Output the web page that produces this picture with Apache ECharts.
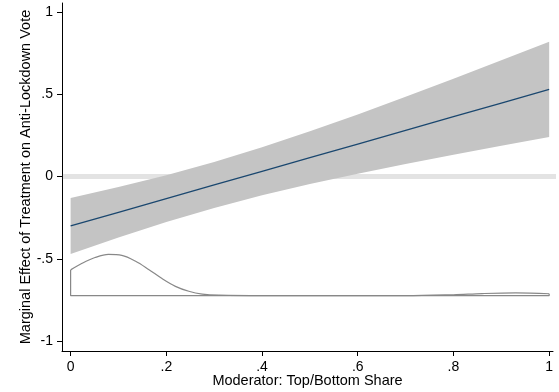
<!DOCTYPE html>
<html>
<head>
<meta charset="utf-8">
<script src="https://cdn.jsdelivr.net/npm/echarts@6/dist/echarts.min.js"></script>
<style>
  html, body { margin: 0; padding: 0; background: #fff; }
  #chart { width: 559px; height: 392px; }
</style>
</head>
<body>
<div id="chart"></div>
<script>
// Moderator grid and estimated marginal effect with 95% band
const modX = [0, 0.1, 0.2, 0.3, 0.4, 0.5, 0.6, 0.7, 0.8, 0.9, 1.0];
const effect = [-0.30, -0.217, -0.134, -0.051, 0.032, 0.115, 0.198, 0.281, 0.364, 0.447, 0.53];
const upperCI = [-0.13, -0.064, 0.008, 0.089, 0.178, 0.275, 0.378, 0.485, 0.595, 0.707, 0.82];
const lowerCI = [-0.47, -0.37, -0.276, -0.191, -0.114, -0.045, 0.018, 0.077, 0.133, 0.187, 0.24];

// Density of the moderator (curve), plus its baseline frame
const densX = [0, 0.024, 0.051, 0.079, 0.107, 0.135, 0.163, 0.191, 0.219, 0.247, 0.275, 0.31, 0.4, 0.5, 0.6, 0.7, 0.8, 0.86, 0.93, 1.0];
const densY = [-0.567, -0.527, -0.492, -0.473, -0.479, -0.513, -0.564, -0.620, -0.667, -0.697, -0.714, -0.721, -0.724, -0.724, -0.724, -0.724, -0.718, -0.711, -0.707, -0.712];
const densBase = -0.724;

// Axis ticks and their labels
const xTickValues = [0, 0.2, 0.4, 0.6, 0.8, 1];
const xTickLabels = ['0', '.2', '.4', '.6', '.8', '1'];
const yTickValues = [-1, -0.5, 0, 0.5, 1];
const yTickLabels = ['-1', '-.5', '0', '.5', '1'];

const X_MIN = -0.018, X_MAX = 1.008;
const Y_MIN = -1.06, Y_MAX = 1.055;

const zip = (a, b) => a.map((v, i) => [v, b[i]]);

const chart = echarts.init(document.getElementById('chart'), null, { renderer: 'canvas' });

const font = 'Liberation Sans, Arial, sans-serif';

function labelFor(values, labels) {
  return v => {
    for (let i = 0; i < values.length; i++) {
      if (Math.abs(values[i] - v) < 1e-9) return labels[i];
    }
    return '';
  };
}

// Closed frame under the density curve: left edge, baseline, right edge
const last = densX.length - 1;
const densFrame = [
  [densX[0], densY[0]],
  [densX[0], densBase],
  [densX[last], densBase],
  [densX[last], densY[last]]
];

chart.setOption({
  animation: false,
  backgroundColor: '#ffffff',
  grid: { left: 62, right: 6, top: 3, bottom: 41, outerBoundsMode: 'none', containLabel: false },
  xAxis: {
    type: 'value',
    min: X_MIN, max: X_MAX,
    name: 'Moderator: Top/Bottom Share',
    nameLocation: 'middle',
    nameGap: 22,
    nameMoveOverlap: false,
    nameTextStyle: { fontFamily: font, fontSize: 14.5, color: '#000' },
    axisLine: { show: true, onZero: false, lineStyle: { color: '#000', width: 1 } },
    axisTick: { show: true, length: 5, customValues: xTickValues, lineStyle: { color: '#000' } },
    axisLabel: {
      customValues: xTickValues, margin: 9,
      formatter: labelFor(xTickValues, xTickLabels),
      fontFamily: font, fontSize: 14, color: '#000'
    },
    splitLine: { show: false }
  },
  yAxis: {
    type: 'value',
    min: Y_MIN, max: Y_MAX,
    name: 'Marginal Effect of Treatment on Anti-Lockdown Vote',
    nameLocation: 'middle',
    nameGap: 29,
    nameMoveOverlap: false,
    nameTextStyle: { fontFamily: font, fontSize: 14.5, color: '#000' },
    axisLine: { show: true, onZero: false, lineStyle: { color: '#000', width: 1 } },
    axisTick: { show: true, length: 5, customValues: yTickValues, lineStyle: { color: '#000' } },
    axisLabel: {
      customValues: yTickValues, margin: 9,
      formatter: labelFor(yTickValues, yTickLabels),
      fontFamily: font, fontSize: 14, color: '#000'
    },
    splitLine: { show: false }
  },
  series: [
    {
      // reference line at zero
      type: 'line',
      data: [[-0.016, 0], [1.017, 0]],
      clip: false,
      symbol: 'none',
      silent: true,
      z: 1,
      lineStyle: { color: '#e3e3e3', width: 5 }
    },
    {
      // confidence band
      type: 'custom',
      data: [[0, 0]],
      silent: true,
      z: 2,
      renderItem: (params, api) => {
        const pts = [];
        for (let i = 0; i < modX.length; i++) pts.push(api.coord([modX[i], upperCI[i]]));
        for (let i = modX.length - 1; i >= 0; i--) pts.push(api.coord([modX[i], lowerCI[i]]));
        return { type: 'polygon', shape: { points: pts }, style: { fill: '#c4c4c4', stroke: null } };
      }
    },
    {
      // point estimate
      type: 'line',
      data: zip(modX, effect),
      symbol: 'none',
      silent: true,
      z: 3,
      lineStyle: { color: '#1a476f', width: 1.3 }
    },
    {
      // moderator density curve
      type: 'line',
      data: zip(densX, densY),
      symbol: 'none',
      smooth: 0.35,
      silent: true,
      z: 3,
      lineStyle: { color: '#888888', width: 1.2 }
    },
    {
      // density frame
      type: 'line',
      data: densFrame,
      symbol: 'none',
      silent: true,
      z: 3,
      lineStyle: { color: '#888888', width: 1.2 }
    }
  ]
});
</script>
</body>
</html>
